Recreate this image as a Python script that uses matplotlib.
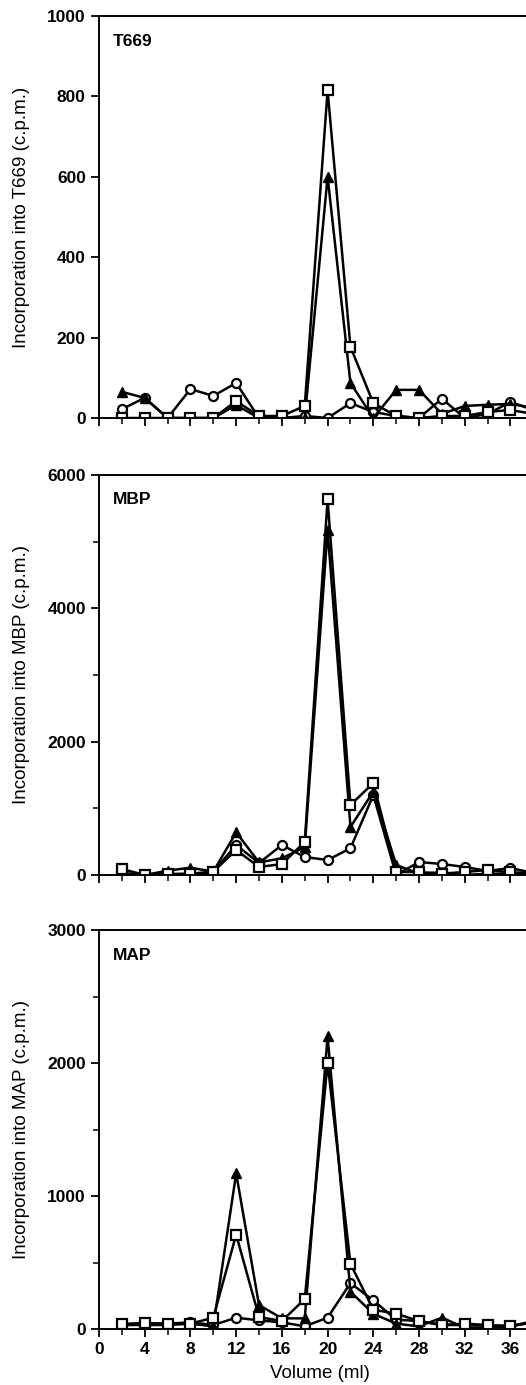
import numpy as np
import matplotlib.pyplot as plt
from matplotlib.ticker import MultipleLocator, FixedLocator

plt.rcParams['font.family'] = ['Liberation Sans', 'DejaVu Sans']

# Fraction volumes (ml)
volume = [2, 4, 6, 8, 10, 12, 14, 16, 18, 20, 22, 24, 26, 28, 30, 32, 34, 36, 38]
xticks = [0, 4, 8, 12, 16, 20, 24, 28, 32, 36]

# T669 panel
t669_tri = [65, 50, 0, 0, 0, 32, 0, 0, 0, 600, 87, 0, 70, 70, 10, 30, 33, 35, 25]
t669_circ = [22, 50, 0, 72, 55, 87, 0, 0, 5, 0, 37, 15, 5, 0, 48, 0, 10, 40, 20]
t669_sq = [0, 0, 0, 0, 0, 42, 5, 5, 30, 815, 177, 37, 5, 0, 5, 5, 15, 20, 10]

# MBP panel
mbp_tri = [30, 0, 65, 110, 50, 640, 190, 250, 420, 5170, 720, 1250, 150, 20, 40, 0, 20, 20, 30]
mbp_circ = [20, 0, 15, 0, 50, 450, 180, 450, 270, 225, 400, 1200, 0, 195, 165, 120, 60, 105, 30]
mbp_sq = [90, 0, 15, 20, 50, 375, 120, 165, 495, 5633, 1050, 1380, 45, 45, 20, 45, 75, 40, 30]

# MAP panel
map_tri = [30, 30, 30, 40, 20, 1170, 180, 80, 80, 2200, 280, 115, 40, 20, 85, 10, 10, 20, 50]
map_circ = [30, 40, 40, 50, 30, 85, 65, 50, 20, 85, 345, 215, 70, 60, 30, 30, 25, 25, 50]
map_sq = [38, 45, 40, 40, 85, 710, 90, 60, 225, 2000, 490, 145, 115, 60, 30, 40, 30, 20, 60]

panels = [
    ('T669', t669_tri, t669_circ, t669_sq, 1000, 200, None),
    ('MBP', mbp_tri, mbp_circ, mbp_sq, 6000, 2000, 1000),
    ('MAP', map_tri, map_circ, map_sq, 3000, 1000, 500),
]

W, H = 526, 1385
fig = plt.figure(figsize=(W / 100, H / 100), dpi=100)

# axes placement in pixels: (zero line y, top y)
boxes = [(418, 16), (875, 475), (1329, 930)]
left_px = 99
width_px = 40 * 11.43

for i, (name, tri, circ, sq, ymax, major, minor) in enumerate(panels):
    y0, y1 = boxes[i]
    ax = fig.add_axes([left_px / W, 1 - y0 / H, width_px / W, (y0 - y1) / H])

    ax.plot(volume, circ, '-o', color='black', lw=1.8, ms=6.5,
            mfc='white', mec='black', mew=1.6)
    ax.plot(volume, tri, '-^', color='black', lw=1.8, ms=7,
            mfc='black', mec='black')
    ax.plot(volume, sq, '-s', color='black', lw=1.8, ms=6.5,
            mfc='white', mec='black', mew=1.6)

    ax.set_xlim(0, 40)
    ax.set_ylim(0, ymax)
    ax.xaxis.set_major_locator(FixedLocator(xticks))
    ax.xaxis.set_minor_locator(MultipleLocator(2))
    ax.yaxis.set_major_locator(MultipleLocator(major))
    if minor:
        ax.yaxis.set_minor_locator(MultipleLocator(minor))

    ax.spines['right'].set_visible(False)
    for s in ['left', 'bottom', 'top']:
        ax.spines[s].set_linewidth(1.4)
    ax.tick_params(which='major', direction='out', length=6, width=1.3,
                   labelsize=12.5)
    ax.tick_params(which='minor', direction='out', length=4, width=1.1)
    for lab in ax.get_yticklabels() + ax.get_xticklabels():
        lab.set_fontweight('bold')

    if i < 2:
        ax.tick_params(axis='x', labelbottom=False)

    ax.set_ylabel(f'Incorporation into {name} (c.p.m.)', fontsize=13.5)
    ax.yaxis.set_label_coords(-0.152, 0.5)

    ax.text(14 / width_px, 1 - 25 / (y0 - y1), name, transform=ax.transAxes,
            fontsize=12.5, fontweight='bold', ha='left', va='center')

fig.text(320 / W, 1 - 1373 / H, 'Volume (ml)', fontsize=13.5,
         ha='center', va='center')

plt.savefig('out.png', dpi=100)
